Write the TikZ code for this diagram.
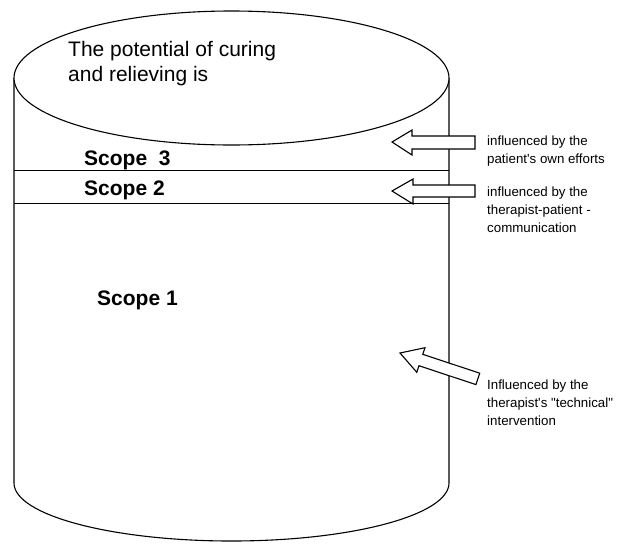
\documentclass[tikz,border=0pt]{standalone}
\usepackage{fontspec}
\setmainfont{Liberation Sans}
\begin{document}
\begin{tikzpicture}[x=1pt,y=-1pt,
  outline/.style={draw=black,line width=1.1pt},
  sep/.style={draw=black,line width=0.9pt},
  blockarrow/.style={draw=black,fill=white,line width=1.1pt,line join=miter},
  title/.style={font=\fontsize{21}{25}\selectfont,align=left,anchor=base west,inner sep=0pt},
  scopelbl/.style={font=\fontsize{21}{24}\selectfont\bfseries,anchor=base west,inner sep=0pt},
  note/.style={font=\fontsize{13.3}{18}\selectfont,align=left,anchor=base west,inner sep=0pt}]
\useasboundingbox (0,0) rectangle (636,544);
% cylinder
\draw[outline] (14,78) -- (14,483) arc[start angle=180,end angle=360,x radius=217.5,y radius=-58] -- (449,78);
\draw[outline,fill=white] (231.5,78) ellipse[x radius=217.5,y radius=67];
\draw[sep] (14,170) -- (449,170);
\draw[sep] (14,203) -- (449,203);
% texts (base anchor = baseline of last line)
\node[title] (t) at (68,81) {The potential of curing\\and relieving is};
\node[scopelbl] (s3) at (84,165) {Scope~~3};
\node[scopelbl] (s2) at (84,195) {Scope 2};
\node[scopelbl] (s1) at (97,305) {Scope 1};
\node[note] (n3) at (487,163) {influenced by the\\patient\textquotesingle s own efforts};
\node[note] (n2) at (487,232) {influenced by the\\therapist-patient -\\communication};
\node[note] (n1) at (487,425) {Influenced by the\\therapist\textquotesingle s \textquotedbl technical\textquotedbl\\intervention};
% arrows
\draw[blockarrow] (392,142) -- (412,130) -- (412,136) -- (475,136) -- (475,149) -- (412,149) -- (412,155) -- cycle;
\draw[blockarrow] (392,191) -- (413,179) -- (413,185) -- (475,185) -- (475,197) -- (413,197) -- (413,204) -- cycle;
\draw[blockarrow] (400,353) -- (425,347.7) -- (422.8,354.3) -- (479.7,373.2) -- (475.9,384.6) -- (419,365.7) -- (416.8,372.3) -- cycle;
\end{tikzpicture}
\end{document}
